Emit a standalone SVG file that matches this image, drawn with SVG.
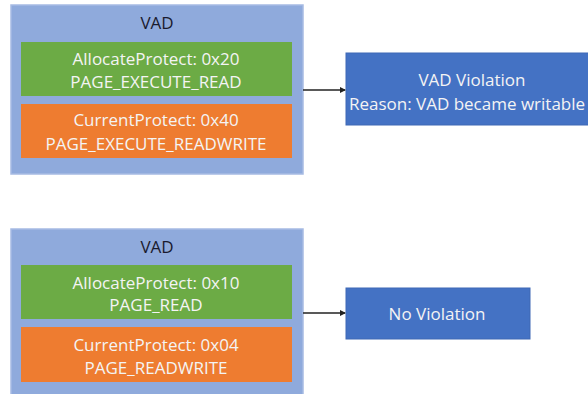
<svg xmlns="http://www.w3.org/2000/svg" width="588" height="394" viewBox="0 0 588 394">
<defs>
<marker id="ah" markerWidth="6" markerHeight="6" refX="5" refY="3" orient="auto" markerUnits="userSpaceOnUse">
<path d="M0,0 L6,3 L0,6 z" fill="#222"/>
</marker>
<style>
.vad{fill:#8faadc;stroke:#a7bbe3;stroke-width:1.5}
.green{fill:#6cab45}
.orange{fill:#ee7c30}
.blue{fill:#4472c4;stroke:#3f68b5;stroke-width:1}
text{font-family:"Open Sans","Liberation Sans",sans-serif;font-size:17px;text-anchor:middle;dominant-baseline:central}
.title{fill:#1a1a2e}
.lt{fill:#f4f4f4}
.conn{stroke:#222;stroke-width:1.3;fill:none}
</style>
</defs>
<rect width="588" height="394" fill="#ffffff"/>
<g id="vad1">
<rect class="vad" x="11" y="5" width="292" height="169"/>
<text class="title" x="157" y="22">VAD</text>
</g>
<g id="alloc1">
<rect class="green" x="21" y="42" width="271" height="54"/>
<text class="lt" x="156" y="58">AllocateProtect: 0x20</text>
<text class="lt" x="156" y="81">PAGE_EXECUTE_READ</text>
</g>
<g id="curr1">
<rect class="orange" x="21" y="104" width="271" height="54"/>
<text class="lt" x="156" y="119">CurrentProtect: 0x40</text>
<text class="lt" x="156" y="143">PAGE_EXECUTE_READWRITE</text>
</g>
<g id="viol1">
<rect class="blue" x="346" y="53" width="250" height="72"/>
<text class="lt" x="472" y="79">VAD Violation</text>
<text class="lt" x="467" y="103">Reason: VAD became writable</text>
</g>
<g id="vad2">
<rect class="vad" x="11" y="229" width="292" height="170"/>
<text class="title" x="157" y="246">VAD</text>
</g>
<g id="alloc2">
<rect class="green" x="21" y="265" width="271" height="54"/>
<text class="lt" x="156" y="282">AllocateProtect: 0x10</text>
<text class="lt" x="156" y="304">PAGE_READ</text>
</g>
<g id="curr2">
<rect class="orange" x="21" y="327" width="271" height="55"/>
<text class="lt" x="156" y="344">CurrentProtect: 0x04</text>
<text class="lt" x="156" y="367">PAGE_READWRITE</text>
</g>
<g id="noviol">
<rect class="blue" x="346" y="288" width="184" height="51"/>
<text class="lt" x="437" y="313">No Violation</text>
</g>
<g id="connectors">
<line class="conn" x1="303" y1="90" x2="345" y2="90" marker-end="url(#ah)"/>
<line class="conn" x1="303" y1="313" x2="345" y2="313" marker-end="url(#ah)"/>
</g>
</svg>
